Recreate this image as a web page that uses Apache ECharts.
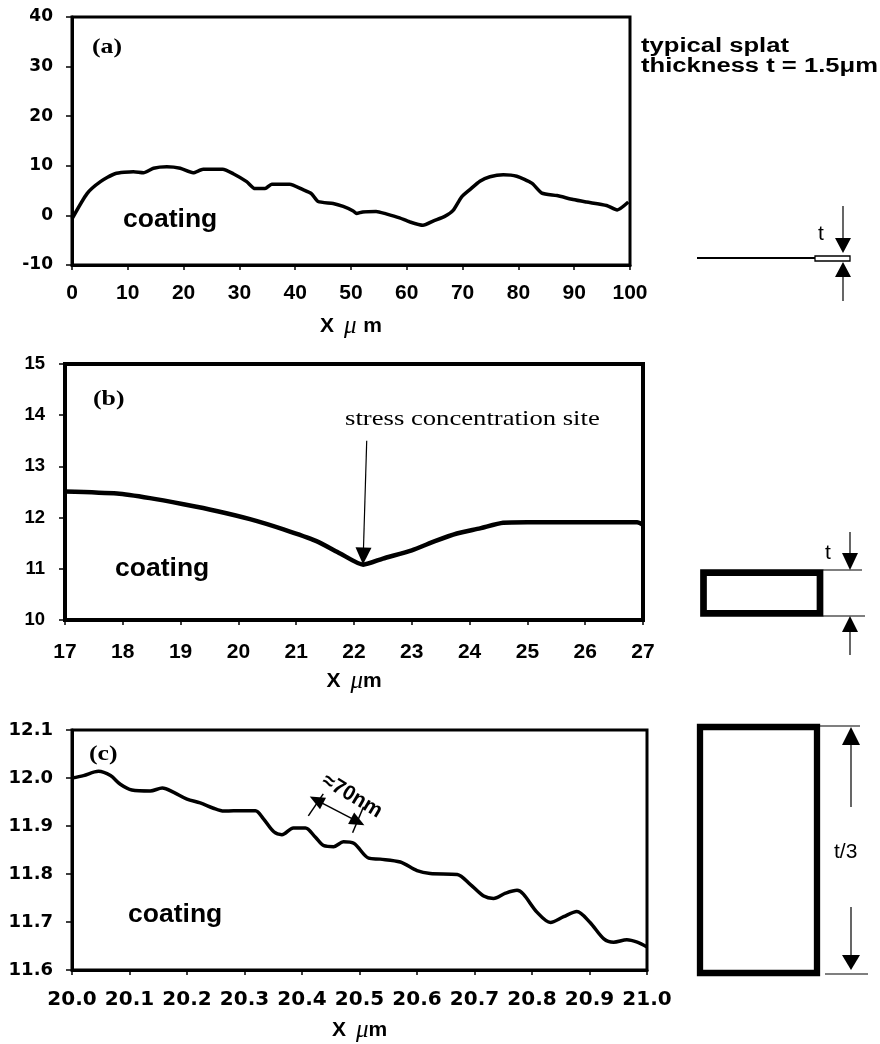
<!DOCTYPE html>
<html>
<head>
<meta charset="utf-8">
<script src="https://cdn.jsdelivr.net/npm/echarts@6/dist/echarts.min.js"></script>
<style>
html, body { margin: 0; padding: 0; background: #fff; }
#main { width: 880px; height: 1044px; }
</style>
</head>
<body>
<div id="main"></div>
<script>
// (a) profile over 100 um
var xA = [0, 2.7, 5.1, 7.7, 11, 12.8, 14.6, 17, 19.4, 21.7, 23.5, 27, 28.9, 31.3, 32.8, 34.6, 35.8, 39, 41.4, 42.9, 44.1, 46.8, 48.6, 50.4, 51, 52.1, 54.5, 56.3, 58.7, 60.5, 62.9, 64.8, 66.8, 68.3, 69.8, 71.3, 73.1, 74.9, 77.3, 79.7, 82.4, 84.2, 86.9, 89.8, 92.2, 95.8, 97.7, 99.7];
var yA = [-0.7, 4.4, 6.8, 8.4, 8.8, 8.6, 9.5, 9.8, 9.5, 8.6, 9.3, 9.3, 8.4, 6.8, 5.4, 5.4, 6.3, 6.3, 5.2, 4.4, 2.8, 2.4, 1.8, 0.9, 0.4, 0.7, 0.8, 0.3, -0.5, -1.3, -2.0, -1.1, -0.2, 1.0, 3.7, 5.2, 6.9, 7.8, 8.2, 7.9, 6.5, 4.5, 4.0, 3.2, 2.7, 2.0, 1.1, 2.7];

// (b) 17 - 27 um
var xB = [17, 17.9, 18.47, 19.05, 19.62, 20.2, 20.78, 21.35, 21.76, 22.16, 22.5, 23.0, 23.4, 23.78, 24.18, 24.58, 25.0, 25.9, 26.9, 27];
var yB = [12.51, 12.47, 12.38, 12.26, 12.13, 11.97, 11.77, 11.54, 11.3, 11.08, 11.2, 11.36, 11.54, 11.69, 11.79, 11.9, 11.91, 11.91, 11.91, 11.86];

// (c) 20 - 21 um
var xC = [20.0, 20.02, 20.046, 20.067, 20.084, 20.104, 20.136, 20.157, 20.177, 20.2, 20.223, 20.246, 20.264, 20.281, 20.319, 20.333, 20.351, 20.365, 20.385, 20.406, 20.423, 20.438, 20.455, 20.472, 20.49, 20.516, 20.536, 20.571, 20.6, 20.623, 20.67, 20.693, 20.716, 20.733, 20.754, 20.774, 20.785, 20.809, 20.832, 20.855, 20.878, 20.901, 20.925, 20.942, 20.965, 20.983, 21.0];
var yC = [12.0, 12.005, 12.014, 12.005, 11.987, 11.975, 11.973, 11.979, 11.97, 11.956, 11.948, 11.937, 11.931, 11.932, 11.932, 11.915, 11.888, 11.882, 11.896, 11.896, 11.877, 11.859, 11.857, 11.867, 11.864, 11.833, 11.831, 11.825, 11.807, 11.801, 11.799, 11.778, 11.754, 11.749, 11.76, 11.766, 11.758, 11.72, 11.699, 11.711, 11.722, 11.699, 11.665, 11.658, 11.663, 11.658, 11.648];

// axis ranges / ticks
var xTicksA = [0, 100, 10], yTicksA = [-10, 40, 10];
var xTicksB = [17, 27, 1], yTicksB = [10, 15, 1];
var xTicksC = [20, 21, 0.1], yTicksC = [11.6, 12.1, 0.1];

function zip(xs, ys) {
    var out = [];
    for (var i = 0; i < xs.length; i++) {
        out.push([xs[i], ys[i]]);
    }
    return out;
}

var titleRich = {
    b: { fontFamily: 'Liberation Sans', fontWeight: 'bold', fontSize: 21, color: '#000' },
    mu: { fontFamily: 'Liberation Serif', fontStyle: 'italic', fontSize: 25, color: '#000' }
};

function makeX(idx, t, font, size, margin, name, gap, fmt) {
    return {
        type: 'value', gridIndex: idx, min: t[0], max: t[1], interval: t[2],
        axisLine: { onZero: false, lineStyle: { color: '#000', width: 3 } },
        axisTick: { show: true, length: 5, lineStyle: { color: '#000', width: 1.5 } },
        splitLine: { show: false },
        axisLabel: {
            color: '#000', fontFamily: font, fontWeight: 'bold', fontSize: size, margin: margin,
            formatter: fmt
        },
        name: name, nameLocation: 'middle', nameGap: gap,
        nameTextStyle: { rich: titleRich }
    };
}

function makeY(idx, t, font, size, margin, fmt) {
    return {
        type: 'value', gridIndex: idx, min: t[0], max: t[1], interval: t[2],
        axisLine: { show: true, onZero: false, lineStyle: { color: '#000', width: 3 } },
        axisTick: { show: true, length: 6, lineStyle: { color: '#000', width: 1.5 } },
        splitLine: { show: false },
        axisLabel: {
            color: '#000', fontFamily: font, fontWeight: 'bold', fontSize: size, margin: margin,
            formatter: fmt
        }
    };
}

var int0 = function (v) { return String(Math.round(v)); };
var dec1 = function (v) { return v.toFixed(1); };

function txt(x, y, text, font, size, weight, sx) {
    return {
        type: 'text', x: x, y: y, scaleX: sx || 1,
        style: {
            text: text, fontFamily: font, fontSize: size, fontWeight: weight || 'normal',
            fill: '#000', align: 'left', verticalAlign: 'middle'
        }
    };
}
function seg(x1, y1, x2, y2, w) {
    return { type: 'line', shape: { x1: x1, y1: y1, x2: x2, y2: y2 }, style: { stroke: '#000', lineWidth: w || 1.2 } };
}
function tri(pts) {
    return { type: 'polygon', shape: { points: pts }, style: { fill: '#000' } };
}

var graphics = [
    txt(92, 47, '(a)', 'Liberation Serif', 22, 'bold', 1.17),
    txt(93, 399, '(b)', 'Liberation Serif', 22, 'bold', 1.17),
    txt(89, 754, '(c)', 'Liberation Serif', 22, 'bold', 1.17),
    txt(123, 220, 'coating', 'Liberation Sans', 26, 'bold', 1.02),
    txt(115, 569, 'coating', 'Liberation Sans', 26, 'bold', 1.02),
    txt(128, 915, 'coating', 'Liberation Sans', 26, 'bold', 1.02),
    txt(345, 419, 'stress concentration site', 'Liberation Serif', 21, 'normal', 1.27),
    {
        type: 'text', x: 352, y: 796, rotation: -0.54,
        style: { text: '≈70nm', fontFamily: 'Liberation Sans', fontSize: 21, fontWeight: 'bold', fill: '#000', align: 'center', verticalAlign: 'middle' }
    },
    txt(641, 46, 'typical splat', 'Liberation Sans', 20, 'bold', 1.28),
    txt(641, 66, 'thickness t = 1.5μm', 'Liberation Sans', 20, 'bold', 1.28),

    // thin splat sketch (a)
    seg(697, 258, 815, 258, 2),
    { type: 'rect', shape: { x: 815, y: 256, width: 35, height: 5 }, style: { fill: '#fff', stroke: '#000', lineWidth: 1.3 } },
    seg(843, 206, 843, 240),
    tri([[835, 238], [851, 238], [843, 253]]),
    tri([[843, 262], [835, 277], [851, 277]]),
    seg(843, 275, 843, 301),
    txt(818, 234, 't', 'Liberation Sans', 21, 'normal', 1),

    // thicker box (b)
    { type: 'rect', shape: { x: 703.5, y: 572.7, width: 116.5, height: 40.6 }, style: { fill: 'none', stroke: '#000', lineWidth: 6.7 } },
    seg(823, 570, 862, 570),
    seg(823, 616, 865, 616),
    seg(850, 532, 850, 555),
    tri([[842, 553], [858, 553], [850, 570]]),
    tri([[850, 616], [842, 632], [858, 632]]),
    seg(850, 630, 850, 655),
    txt(825, 553, 't', 'Liberation Sans', 21, 'normal', 1),

    // tall box (c)
    { type: 'rect', shape: { x: 700, y: 727, width: 117, height: 246 }, style: { fill: 'none', stroke: '#000', lineWidth: 6.3 } },
    seg(820, 726, 860, 726),
    seg(825, 974, 868, 974),
    tri([[851, 727], [842, 745], [860, 745]]),
    seg(851, 744, 851, 807),
    seg(851, 907, 851, 957),
    tri([[842, 955], [860, 955], [851, 970]]),
    txt(834, 852, 't/3', 'Liberation Sans', 21, 'normal', 1)
];

var option = {
    animation: false,
    backgroundColor: '#fff',
    grid: [
        { left: 72, top: 17, width: 558, height: 248, show: true, borderColor: '#000', borderWidth: 3 },
        { left: 65, top: 364, width: 578, height: 256, show: true, borderColor: '#000', borderWidth: 4 },
        { left: 72, top: 730, width: 575, height: 243, show: true, borderColor: '#000', borderWidth: 3 }
    ],
    xAxis: [
        makeX(0, xTicksA, 'Liberation Sans', 21, 18, '{b|X}   {mu|μ}  {b|m}', 49, int0),
        makeX(1, xTicksB, 'Liberation Sans', 21, 22, '{b|X}   {mu|μ}{b|m}', 49, int0),
        makeX(2, xTicksC, 'DejaVu Sans', 20, 20, '{b|X}   {mu|μ}{b|m}', 48, dec1)
    ],
    yAxis: [
        makeY(0, yTicksA, 'DejaVu Sans', 17, 19, int0),
        makeY(1, yTicksB, 'Liberation Sans', 18.5, 20, int0),
        makeY(2, yTicksC, 'DejaVu Sans', 18, 19, dec1)
    ],
    series: [
        {
            type: 'line', xAxisIndex: 0, yAxisIndex: 0, showSymbol: false, smooth: 0.2,
            lineStyle: { color: '#000', width: 3.5 },
            data: zip(xA, yA)
        },
        {
            type: 'line', xAxisIndex: 1, yAxisIndex: 1, showSymbol: false, smooth: 0.2,
            lineStyle: { color: '#000', width: 4.5 },
            data: zip(xB, yB),
            markLine: {
                silent: true,
                label: { show: false },
                lineStyle: { color: '#000', width: 1.2, type: 'solid' },
                symbolSize: [16, 17],
                data: [
                    [{ coord: [22.22, 13.5], symbol: 'none' }, { coord: [22.16, 11.25], symbol: 'triangle' }]
                ]
            }
        },
        {
            type: 'line', xAxisIndex: 2, yAxisIndex: 2, showSymbol: false, smooth: 0.3,
            lineStyle: { color: '#000', width: 3.5 },
            data: zip(xC, yC),
            markLine: {
                silent: true,
                label: { show: false },
                lineStyle: { color: '#000', width: 1.5, type: 'solid' },
                symbolSize: [13, 15],
                data: [
                    [{ coord: [20.425, 11.954], symbol: 'triangle' }, { coord: [20.497, 11.909], symbol: 'triangle' }],
                    [{ coord: [20.411, 11.921], symbol: 'none' }, { coord: [20.437, 11.967], symbol: 'none' }],
                    [{ coord: [20.488, 11.886], symbol: 'none' }, { coord: [20.507, 11.94], symbol: 'none' }]
                ]
            }
        }
    ],
    graphic: graphics
};

var chart = echarts.init(document.getElementById('main'));
chart.setOption(option);
</script>
</body>
</html>
